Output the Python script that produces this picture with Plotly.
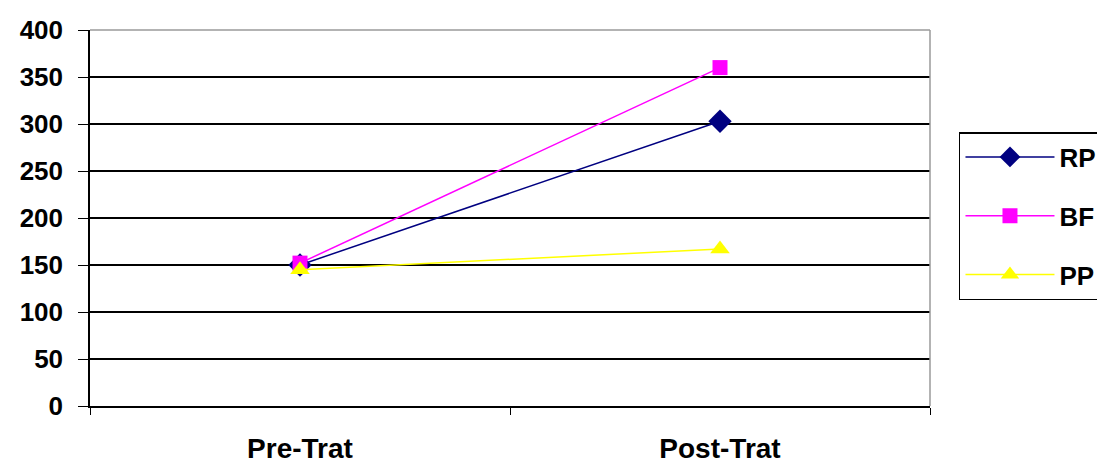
import plotly.graph_objects as go

categories = ["Pre-Trat", "Post-Trat"]
rp = [150, 303]
bf = [152, 360]
pp = [145, 167]
y_ticks = [0, 50, 100, 150, 200, 250, 300, 350, 400]

FONT = "Liberation Sans, Arial, sans-serif"

fig = go.Figure()
fig.add_trace(go.Scatter(x=categories, y=rp, name="RP", mode="lines+markers",
                         line=dict(color="#000080", width=1.5),
                         marker=dict(symbol="diamond", size=18, color="#000080"),
                         legendgroup="a"))
fig.add_trace(go.Scatter(x=categories, y=bf, name="BF", mode="lines+markers",
                         line=dict(color="#FF00FF", width=1.5),
                         marker=dict(symbol="square", size=15, color="#FF00FF"),
                         legendgroup="b"))
fig.add_trace(go.Scatter(x=categories, y=pp, name="PP", mode="lines+markers",
                         line=dict(color="#FFFF00", width=1.5),
                         marker=dict(symbol="triangle-up", size=17, color="#FFFF00"),
                         legendgroup="c"))

# page body has an 8px margin, so the figure is offset by (8, 8)
fig.update_layout(
    width=1105, height=465,
    margin=dict(l=82, r=183, t=22, b=67, autoexpand=False),
    paper_bgcolor="white", plot_bgcolor="white",
    font=dict(family=FONT, size=26, color="black", weight="bold"),
    showlegend=True,
    legend=dict(x=1.0345, y=0.7287, xanchor="left", yanchor="top",
                bordercolor="black", borderwidth=1.5, bgcolor="white",
                font=dict(family=FONT, size=26, color="black", weight="bold"),
                tracegroupgap=22, itemwidth=89),
    xaxis=dict(type="category", range=[-0.5, 1.5], showgrid=False,
               showline=True, linecolor="black", linewidth=1.5,
               ticks="outside", tickson="boundaries", ticklen=7, tickcolor="black",
               tickfont=dict(family=FONT, size=28, color="black", weight="bold"),
               ticklabelstandoff=17),
    yaxis=dict(range=[0, 400], tickvals=y_ticks, showgrid=True, gridcolor="black",
               gridwidth=1.5, showline=True, linecolor="black", linewidth=1.5,
               zeroline=False, ticks="outside", ticklen=10, tickcolor="black",
               tickfont=dict(family=FONT, size=26, color="black", weight="bold"),
               ticklabelstandoff=10),
)
fig.add_shape(type="line", xref="paper", yref="paper", x0=0, x1=1, y0=1, y1=1,
              line=dict(color="#9a9a9a", width=1.5), layer="above")
fig.add_shape(type="line", xref="paper", yref="paper", x0=1, x1=1, y0=0, y1=1,
              line=dict(color="#9a9a9a", width=1.5), layer="above")

fig.write_html("out.html")
